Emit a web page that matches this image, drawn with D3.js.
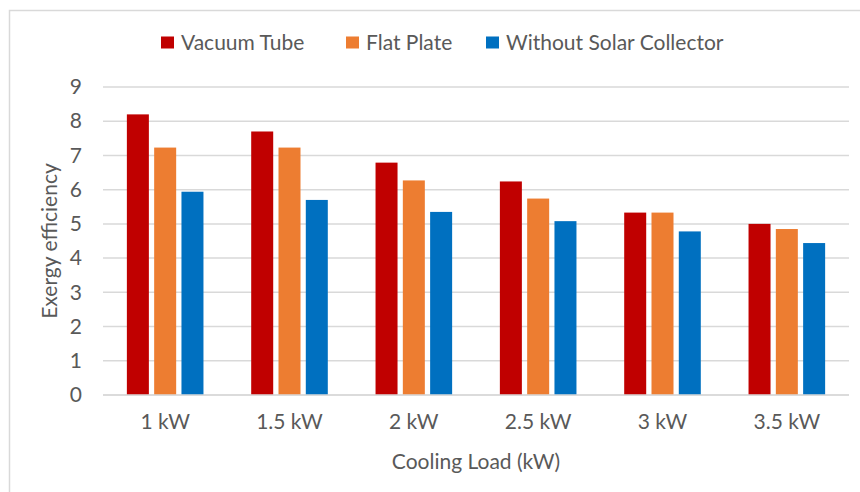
<!DOCTYPE html>
<html>
<head>
<meta charset="utf-8">
<script src="https://cdn.jsdelivr.net/npm/d3@7"></script>
<style>
  html, body { margin: 0; padding: 0; background: #fff; }
  svg { display: block; font-family: Lato, "Open Sans", sans-serif; }
</style>
</head>
<body>
<svg id="chart" width="860" height="492"></svg>
<script>
// Cooling loads along the x axis
const categories = ["1 kW", "1.5 kW", "2 kW", "2.5 kW", "3 kW", "3.5 kW"];
// Exergy efficiency per configuration
const seriesNames = ["Vacuum Tube", "Flat Plate", "Without Solar Collector"];
const vacuumTube = [8.2, 7.7, 6.79, 6.24, 5.33, 5.0];
const flatPlate = [7.23, 7.23, 6.27, 5.74, 5.33, 4.85];
const withoutCollector = [5.94, 5.7, 5.35, 5.08, 4.78, 4.44];
const yTicks = [0, 1, 2, 3, 4, 5, 6, 7, 8, 9];
const colors = ["#C00000", "#ED7D31", "#0070C0"];

const seriesValues = [vacuumTube, flatPlate, withoutCollector];

const svg = d3.select("#chart");
const plot = { left: 103, right: 849, top: 87, bottom: 395 };

// Outer chart frame
svg.append("rect")
  .attr("x", 9.5).attr("y", 10.5)
  .attr("width", 900).attr("height", 520)
  .attr("fill", "#fff")
  .attr("stroke", "#d9d9d9").attr("stroke-width", 1.5);

const x0 = d3.scaleBand().domain(categories).range([plot.left, plot.right]).padding(0);
const groupWidth = 76.6;
const x1 = d3.scaleBand().domain(seriesNames).range([0, groupWidth]).paddingInner(0.194).paddingOuter(0);
const y = d3.scaleLinear().domain([0, 9]).range([plot.bottom, plot.top]);

// Horizontal gridlines
svg.append("g")
  .selectAll("line")
  .data(yTicks)
  .join("line")
  .attr("x1", plot.left).attr("x2", plot.right)
  .attr("y1", d => y(d)).attr("y2", d => y(d))
  .attr("stroke", "#d9d9d9").attr("stroke-width", 1.5);

// Y tick labels
const yAxis = d3.axisLeft(y).tickValues(yTicks).tickSize(0).tickPadding(0);
const yg = svg.append("g").attr("transform", "translate(82,0)").call(yAxis);
yg.select(".domain").remove();
yg.selectAll("text")
  .attr("fill", "#595959").attr("font-size", 21)
  .attr("font-family", "Lato, sans-serif");

// Bars
const groups = svg.append("g")
  .selectAll("g")
  .data(categories)
  .join("g")
  .attr("transform", d => `translate(${x0(d) + (x0.bandwidth() - groupWidth) / 2},0)`);

groups.selectAll("rect")
  .data((d, i) => seriesNames.map((s, k) => ({ s, k, v: seriesValues[k][i] })))
  .join("rect")
  .attr("x", d => x1(d.s))
  .attr("width", x1.bandwidth())
  .attr("y", d => y(d.v))
  .attr("height", d => y(0) - y(d.v))
  .attr("fill", d => colors[d.k]);

// Baseline
svg.append("line")
  .attr("x1", plot.left).attr("x2", plot.right)
  .attr("y1", y(0)).attr("y2", y(0))
  .attr("stroke", "#d9d9d9").attr("stroke-width", 1.5);

// X axis labels
const xAxis = d3.axisBottom(x0).tickSize(0).tickPadding(0);
const xg = svg.append("g").attr("transform", "translate(0,414)").call(xAxis);
xg.select(".domain").remove();
xg.selectAll("text")
  .attr("fill", "#595959").attr("font-size", 21)
  .attr("font-family", "Lato, sans-serif")
  .attr("dy", "0.71em");

// Axis titles
svg.append("text")
  .attr("x", (plot.left + plot.right) / 2).attr("y", 469)
  .attr("text-anchor", "middle")
  .attr("fill", "#595959").attr("font-size", 21)
  .text("Cooling Load (kW)");

svg.append("text")
  .attr("transform", "translate(57,241) rotate(-90)")
  .attr("text-anchor", "middle")
  .attr("fill", "#595959").attr("font-size", 21)
  .text("Exergy efficiency");

// Legend
const legendItems = [
  { name: seriesNames[0], x: 161 },
  { name: seriesNames[1], x: 346 },
  { name: seriesNames[2], x: 486 }
];
const lg = svg.append("g")
  .selectAll("g")
  .data(legendItems)
  .join("g")
  .attr("transform", d => `translate(${d.x},0)`);
lg.append("rect")
  .attr("x", 0).attr("y", 36.5)
  .attr("width", 13).attr("height", 12)
  .attr("fill", (d, i) => colors[i]);
lg.append("text")
  .attr("x", 20).attr("y", 50)
  .attr("fill", "#595959").attr("font-size", 21)
  .text(d => d.name);
</script>
</body>
</html>
